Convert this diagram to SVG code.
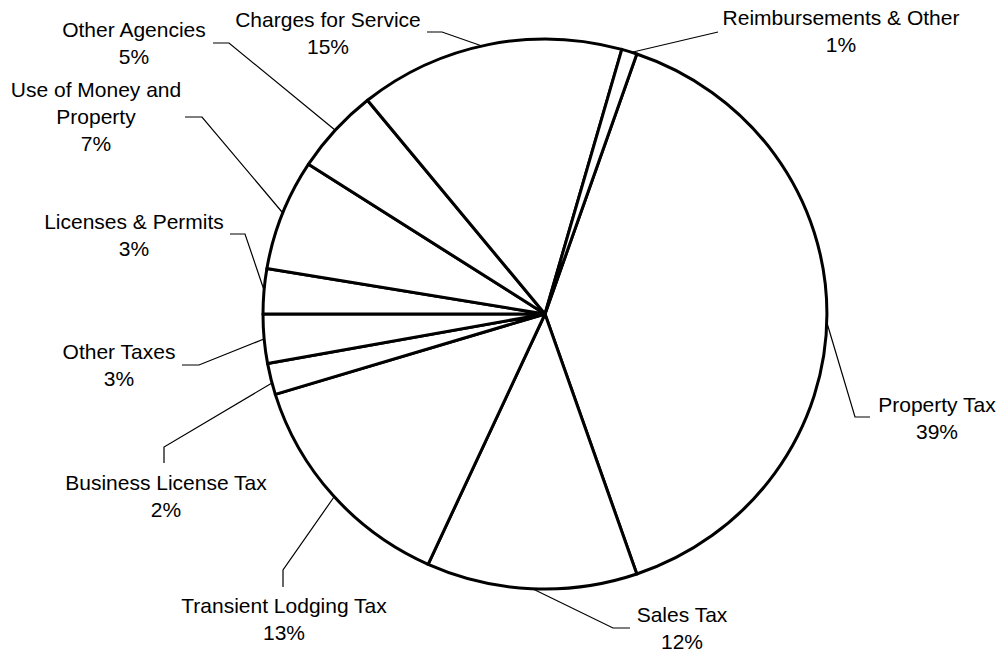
<svg xmlns="http://www.w3.org/2000/svg" width="1002" height="655" viewBox="0 0 1002 655">
<style>
.s{fill:#fff;stroke:#000;stroke-width:3;stroke-linejoin:round}
.t{font-family:"Liberation Sans",Arial,sans-serif;font-size:21px;fill:#000;text-anchor:middle}
.l{fill:none;stroke:#000;stroke-width:1.2}
</style>
<rect width="1002" height="655" fill="#fff"/>
<g id="slice-property"><path class="s" d="M545,314 L636.8,54 A282,275 0 0 1 636.8,574 Z"/><text class="t" x="937" y="412">Property Tax</text><text class="t" x="937" y="439">39%</text></g>
<g id="slice-sales"><path class="s" d="M545,314 L636.8,574 A282,275 0 0 1 428.1,564.3 Z"/><text class="t" x="682" y="622">Sales Tax</text><text class="t" x="682" y="649">12%</text></g>
<g id="slice-transient"><path class="s" d="M545,314 L428.1,564.3 A282,275 0 0 1 275.3,394.4 Z"/><text class="t" x="284" y="613">Transient Lodging Tax</text><text class="t" x="284" y="640">13%</text></g>
<g id="slice-business"><path class="s" d="M545,314 L275.3,394.4 A282,275 0 0 1 267.6,363.6 Z"/><text class="t" x="166" y="490">Business License Tax</text><text class="t" x="166" y="517">2%</text></g>
<g id="slice-othertaxes"><path class="s" d="M545,314 L267.6,363.6 A282,275 0 0 1 263,314 Z"/><text class="t" x="119" y="359">Other Taxes</text><text class="t" x="119" y="386">3%</text></g>
<g id="slice-licenses"><path class="s" d="M545,314 L263,314 A282,275 0 0 1 266.9,268.6 Z"/><text class="t" x="134" y="229">Licenses &amp; Permits</text><text class="t" x="134" y="256">3%</text></g>
<g id="slice-money"><path class="s" d="M545,314 L266.9,268.6 A282,275 0 0 1 308.5,164.2 Z"/><text class="t" x="96" y="97">Use of Money and</text><text class="t" x="96" y="124">Property</text><text class="t" x="96" y="151">7%</text></g>
<g id="slice-agencies"><path class="s" d="M545,314 L308.5,164.2 A282,275 0 0 1 367.5,100.3 Z"/><text class="t" x="134" y="37">Other Agencies</text><text class="t" x="134" y="64">5%</text></g>
<g id="slice-charges"><path class="s" d="M545,314 L367.5,100.3 A282,275 0 0 1 621.8,49.4 Z"/><text class="t" x="328" y="27">Charges for Service</text><text class="t" x="328" y="54">15%</text></g>
<g id="slice-reimb"><path class="s" d="M545,314 L621.8,49.4 A282,275 0 0 1 636.8,54 Z"/><text class="t" x="841" y="25">Reimbursements &amp; Other</text><text class="t" x="841" y="52">1%</text></g>
<g id="connectors">
<polyline class="l" points="827,323 855,417 870,417"/>
<polyline class="l" points="533,589 613,628 630,628"/>
<polyline class="l" points="334,497 283,570 283,587"/>
<polyline class="l" points="272,383 164,447 164,463"/>
<polyline class="l" points="264,339 199,365 182,365"/>
<polyline class="l" points="264,290 245,234 230,234"/>
<polyline class="l" points="282,212 202,117 185,117"/>
<polyline class="l" points="335,130 229,43 213,43"/>
<polyline class="l" points="482,46 442,32 427,32"/>
<polyline class="l" points="633,52 718,32"/>
</g>
</svg>
